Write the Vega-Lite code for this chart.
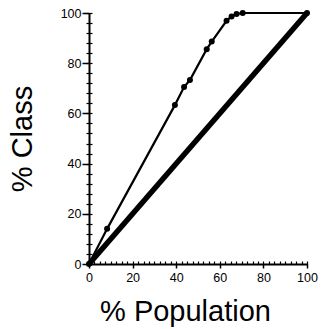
{
  "$schema": "https://vega.github.io/schema/vega-lite/v6.json",
  "width": 218,
  "height": 251,
  "autosize": "none",
  "padding": {"left": 89, "top": 13, "right": 14, "bottom": 65},
  "background": "white",
  "config": {
    "view": {"stroke": null},
    "axis": {"labelFont": "Liberation Sans", "titleFont": "Liberation Sans", "domainColor": "black", "tickColor": "black", "labelColor": "black", "titleColor": "black", "grid": false, "titleFontWeight": "normal"}
  },
  "datasets": {
    "diag": [{"pop": 0, "cls": 0}, {"pop": 100, "cls": 100}],
    "curve": [
      {"pop": 0, "cls": 0},
      {"pop": 8.3, "cls": 14},
      {"pop": 39.4, "cls": 63.3},
      {"pop": 43.6, "cls": 70.5},
      {"pop": 46.3, "cls": 73.3},
      {"pop": 54, "cls": 85.6},
      {"pop": 56.3, "cls": 88.6},
      {"pop": 63.1, "cls": 96.9},
      {"pop": 65.4, "cls": 98.6},
      {"pop": 67.7, "cls": 99.6},
      {"pop": 70.5, "cls": 100},
      {"pop": 100, "cls": 100}
    ]
  },
  "resolve": {"axis": {"x": "independent", "y": "independent"}},
  "layer": [
    {
      "data": {"name": "diag"},
      "mark": {"type": "line", "color": "black", "strokeWidth": 5.5, "strokeCap": "butt"},
      "encoding": {
        "x": {"field": "pop", "type": "quantitative", "scale": {"domain": [0, 100], "nice": false},
          "axis": {"orient": "bottom", "title": "% Population", "titleFontSize": 29, "titlePadding": 14, "titleX": 96, "values": [0, 20, 40, 60, 80, 100], "tickSize": 4, "tickWidth": 1.5, "domainWidth": 2, "labelFontSize": 12.5, "labelPadding": 3, "labelFlush": false}},
        "y": {"field": "cls", "type": "quantitative", "scale": {"domain": [0, 100], "nice": false},
          "axis": {"orient": "left", "title": "% Class", "titleFontSize": 29, "titlePadding": 23, "values": [0, 20, 40, 60, 80, 100], "tickSize": 7, "tickWidth": 1.5, "domainWidth": 2, "labelFontSize": 12.5, "labelPadding": 1, "labelFlush": false}}
      }
    },
    {
      "data": {"name": "curve"},
      "mark": {"type": "line", "color": "black", "strokeWidth": 2.2, "point": {"filled": true, "color": "black", "size": 36, "shape": "circle"}},
      "encoding": {
        "x": {"field": "pop", "type": "quantitative",
          "axis": {"orient": "bottom", "title": null, "labels": false, "domain": false, "offset": -3, "tickWidth": 1.2,
            "values": [0, 2.5, 5, 7.5, 10, 12.5, 15, 17.5, 20, 22.5, 25, 27.5, 30, 32.5, 35, 37.5, 40, 42.5, 45, 47.5, 50, 52.5, 55, 57.5, 60, 62.5, 65, 67.5, 70, 72.5, 75, 77.5, 80, 82.5, 85, 87.5, 90, 92.5, 95, 97.5, 100],
            "tickSize": {"condition": {"test": "datum.value % 20 === 0", "value": 4}, "value": 3}}},
        "y": {"field": "cls", "type": "quantitative",
          "axis": {"orient": "left", "title": null, "labels": false, "domain": false, "offset": -3, "tickWidth": 1.2,
            "values": [0, 4, 8, 12, 16, 20, 24, 28, 32, 36, 40, 44, 48, 52, 56, 60, 64, 68, 72, 76, 80, 84, 88, 92, 96, 100],
            "tickSize": {"condition": {"test": "datum.value === 100", "value": 8}, "value": 6}}}
      }
    }
  ]
}
